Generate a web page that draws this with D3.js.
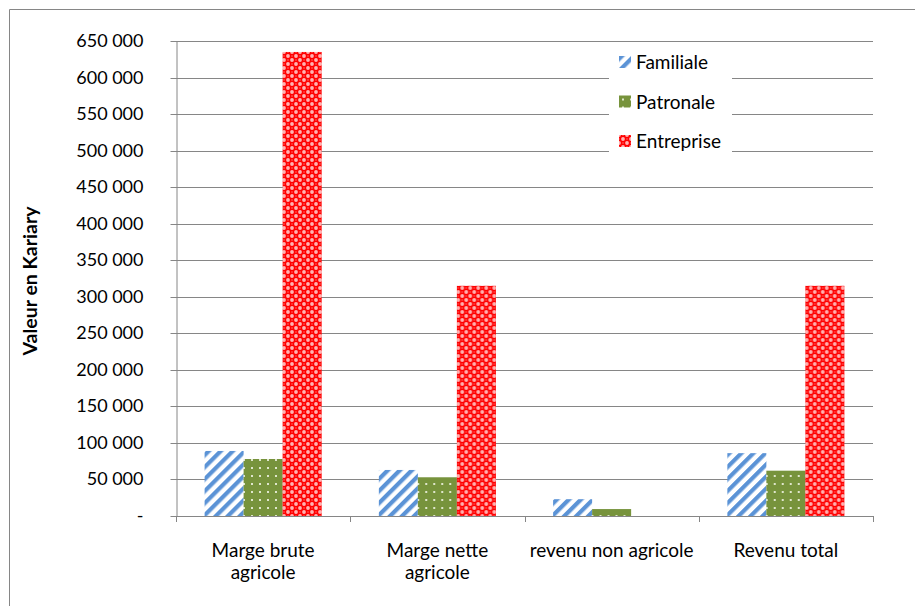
<!DOCTYPE html>
<html>
<head>
<meta charset="utf-8">
<script src="https://cdn.jsdelivr.net/npm/d3@7"></script>
<style>
  body { margin: 0; background: #fff; }
  svg { display: block; font-family: Lato, "Open Sans", sans-serif; }
</style>
</head>
<body>
<div id="stage"></div>
<script>
(function(d3) {
    'use strict';

    var categories = [['Marge brute', 'agricole'], ['Marge nette', 'agricole'], ['revenu non agricole'], ['Revenu total']],
        seriesNames = ['Familiale', 'Patronale', 'Entreprise'],
        familiale = [89000, 63000, 23000, 86000],
        patronale = [78000, 53000, 9500, 62000],
        entreprise = [635000, 315000, 0, 315000],
        yTicks = [0, 50000, 100000, 150000, 200000, 250000, 300000, 350000, 400000, 450000, 500000, 550000, 600000, 650000];

    var values = [familiale, patronale, entreprise],
        rows = categories.map(function(c, i) {
            return { label: c, vals: seriesNames.map(function(s, j) { return { key: s, value: values[j][i] }; }) };
        });

    var width = 915, height = 606,
        left = 176, right = 873, top = 41, bottom = 516;

    var svg = d3.select('#stage').append('svg')
        .attr('width', width)
        .attr('height', height);

    // patterns
    var defs = svg.append('defs');

    var pFam = defs.append('pattern')
        .attr('id', 'p-fam')
        .attr('patternUnits', 'userSpaceOnUse')
        .attr('width', 8.5).attr('height', 8.5)
        .attr('patternTransform', 'rotate(45)');
    pFam.append('rect').attr('width', 8.5).attr('height', 8.5).attr('fill', '#fff');
    pFam.append('rect').attr('width', 4.2).attr('height', 8.5).attr('fill', '#5b93d6');

    var pPat = defs.append('pattern')
        .attr('id', 'p-pat')
        .attr('patternUnits', 'userSpaceOnUse')
        .attr('width', 8).attr('height', 8);
    pPat.append('rect').attr('width', 8).attr('height', 8).attr('fill', '#77933c');
    pPat.append('rect').attr('x', 3).attr('y', 3).attr('width', 2).attr('height', 2).attr('fill', '#dfe6cc');

    var pEnt = defs.append('pattern')
        .attr('id', 'p-ent')
        .attr('patternUnits', 'userSpaceOnUse')
        .attr('width', 8).attr('height', 8);
    pEnt.append('rect').attr('width', 8).attr('height', 8).attr('fill', '#ff0000');
    [[0, 0], [8, 0], [0, 8], [8, 8], [4, 4]].forEach(function(p) {
        pEnt.append('circle').attr('cx', p[0]).attr('cy', p[1]).attr('r', 1.9).attr('fill', '#ffb3b3');
    });
    [[4, 0], [0, 4], [8, 4], [4, 8]].forEach(function(p) {
        pEnt.append('rect').attr('x', p[0] - 0.6).attr('y', p[1] - 0.6).attr('width', 1.2).attr('height', 1.2).attr('fill', '#ff8080');
    });

    var fills = { 'Familiale': 'url(#p-fam)', 'Patronale': 'url(#p-pat)', 'Entreprise': 'url(#p-ent)' };

    // chart border (cropped at right and bottom)
    svg.append('path')
        .attr('d', 'M9.5,' + (height + 5) + 'V9.5H' + (width + 5))
        .attr('fill', 'none')
        .attr('stroke', '#868686')
        .attr('stroke-width', 1);

    var x0 = d3.scaleBand()
        .domain(d3.range(categories.length))
        .range([left, right])
        .padding(0);

    var gap = 28.6;
    var x1 = d3.scaleBand()
        .domain(seriesNames)
        .range([gap, x0.bandwidth() - gap])
        .padding(0);

    var y = d3.scaleLinear()
        .domain([0, 650000])
        .range([bottom, top]);

    var fmt = function(v) {
        return v === 0 ? '-' : d3.format(',')(v).replace(/,/g, ' ');
    };

    // gridlines
    svg.append('g')
        .selectAll('line')
        .data(yTicks.filter(function(t) { return t > 0; }))
        .enter()
        .append('line')
        .attr('x1', left).attr('x2', right)
        .attr('y1', function(d) { return Math.round(y(d)) + 0.5; })
        .attr('y2', function(d) { return Math.round(y(d)) + 0.5; })
        .attr('stroke', '#868686');

    // y axis
    var yAxis = svg.append('g')
        .attr('transform', 'translate(' + (left + 0.5) + ',0.5)')
        .call(d3.axisLeft(y).tickValues(yTicks).tickFormat(fmt).tickSize(6).tickSizeOuter(0).tickPadding(27));
    yAxis.selectAll('path, line').attr('stroke', '#868686');
    yAxis.selectAll('text')
        .attr('fill', '#000')
        .style('font-size', '18px')
        .style('font-family', 'Lato, sans-serif');
    yAxis.selectAll('.tick')
        .attr('transform', function(d) { return 'translate(0,' + Math.round(y(d)) + ')'; });

    // bars
    var groups = svg.append('g')
        .selectAll('.group')
        .data(rows)
        .enter()
        .append('g')
        .attr('class', 'group')
        .attr('transform', function(d, i) { return 'translate(' + x0(i) + ',0)'; });

    groups.selectAll('rect')
        .data(function(d) { return d.vals; })
        .enter()
        .append('rect')
        .attr('x', function(d) { return x1(d.key); })
        .attr('width', x1.bandwidth())
        .attr('y', function(d) { return y(d.value); })
        .attr('height', function(d) { return bottom - y(d.value); })
        .attr('fill', function(d) { return fills[d.key]; });

    // x axis
    var xg = svg.append('g');
    xg.append('line')
        .attr('x1', left).attr('x2', right + 1)
        .attr('y1', bottom + 0.5).attr('y2', bottom + 0.5)
        .attr('stroke', '#868686');
    xg.selectAll('.xtick')
        .data(d3.range(categories.length + 1))
        .enter()
        .append('line')
        .attr('class', 'xtick')
        .attr('x1', function(i) { return Math.round(left + i * x0.step()) + 0.5; })
        .attr('x2', function(i) { return Math.round(left + i * x0.step()) + 0.5; })
        .attr('y1', bottom).attr('y2', bottom + 6)
        .attr('stroke', '#868686');

    var labels = xg.selectAll('.xlabel')
        .data(rows)
        .enter()
        .append('text')
        .attr('class', 'xlabel')
        .attr('text-anchor', 'middle')
        .attr('x', function(d, i) { return x0(i) + x0.bandwidth() / 2; })
        .attr('y', 557)
        .style('font-size', '19px');
    labels.selectAll('tspan')
        .data(function(d) { return d.label; })
        .enter()
        .append('tspan')
        .attr('x', function() { return d3.select(this.parentNode).attr('x'); })
        .attr('dy', function(d, i) { return i === 0 ? 0 : 22; })
        .text(function(d) { return d; });

    // y title
    svg.append('text')
        .attr('transform', 'translate(37,281) rotate(-90)')
        .attr('text-anchor', 'middle')
        .style('font-size', '19.5px')
        .style('font-weight', 'bold')
        .text('Valeur en Kariary');

    // legend
    var legend = svg.append('g');
    legend.append('rect')
        .attr('x', 609).attr('y', 43)
        .attr('width', 123).attr('height', 113)
        .attr('fill', '#fff');
    var items = legend.selectAll('.item')
        .data(seriesNames)
        .enter()
        .append('g')
        .attr('class', 'item')
        .attr('transform', function(d, i) { return 'translate(619,' + (56 + i * 39.5) + ')'; });
    items.append('rect')
        .attr('width', 12).attr('height', 12)
        .attr('fill', function(d) { return fills[d]; });
    items.append('text')
        .attr('x', 17).attr('y', 13)
        .style('font-size', '19px')
        .text(function(d) { return d; });

})(window.d3);
</script>
</body>
</html>
